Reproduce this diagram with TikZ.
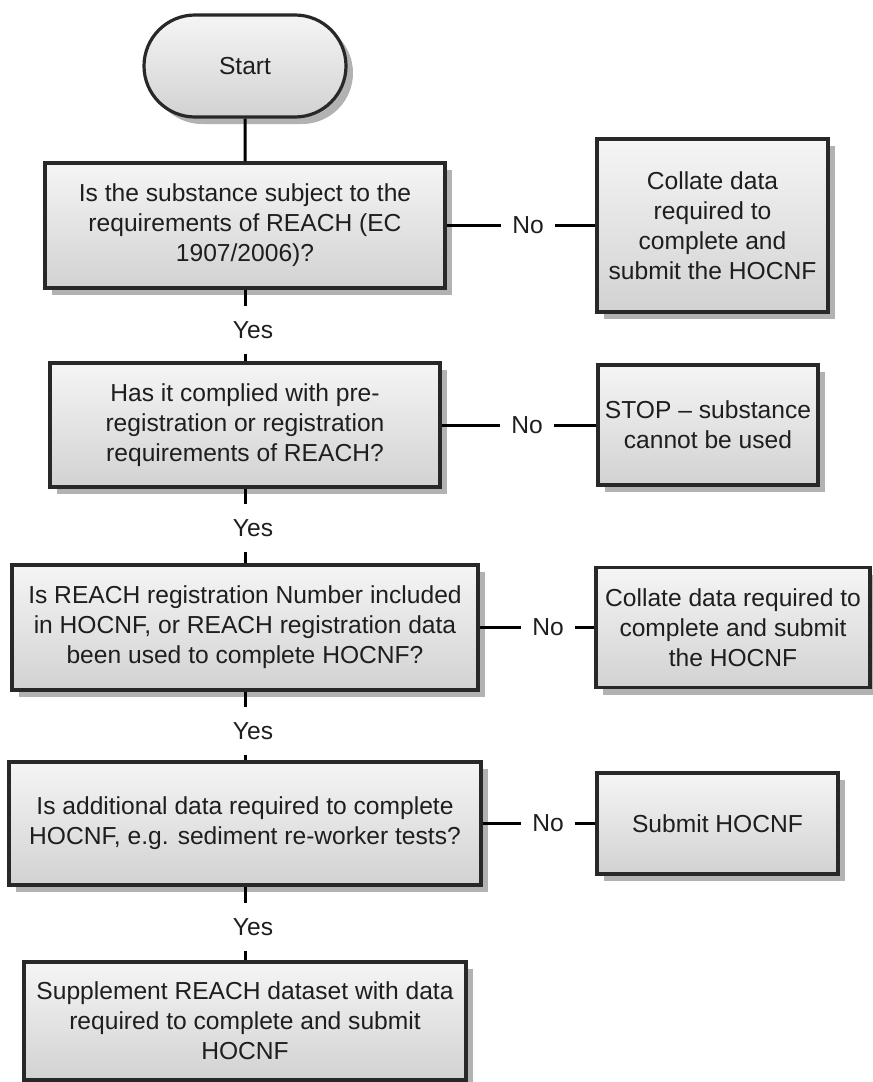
\documentclass[tikz,border=0pt]{standalone}
\usepackage{fontspec}
\setmainfont{Liberation Sans}
\usetikzlibrary{shapes.misc,shadows}
\definecolor{boxtop}{RGB}{245,245,245}
\definecolor{boxbottom}{RGB}{210,210,210}
\definecolor{boxedge}{RGB}{40,40,40}
\definecolor{boxshadow}{RGB}{178,178,178}
\definecolor{textgray}{RGB}{30,30,30}
\begin{document}
\begin{tikzpicture}[x=1pt,y=-1pt,
	procbox/.style={rectangle,draw=boxedge,line width=3.2pt,top color=boxtop,bottom color=boxbottom,
		drop shadow={shadow xshift=7pt,shadow yshift=-7pt,fill=boxshadow,opacity=1},
		align=center,text=textgray,font=\fontsize{24.6}{30}\selectfont,inner sep=0pt},
	termbox/.style={procbox,rounded rectangle},
	answer/.style={text=textgray,font=\fontsize{24.6}{30}\selectfont,inner xsep=11pt,inner ysep=15pt},
	link/.style={line width=3pt,black}]
	   \useasboundingbox (0,0) rectangle (873,1082);
	   % main column
	   \node [termbox,minimum width=202pt,minimum height=102pt] (start) at (245,66) {Start};
	   \node [procbox,minimum width=400pt,minimum height=125pt] (q1) at (245,225.5) {Is the substance subject to the\\requirements of REACH (EC\\1907/2006)?};
	   \node [procbox,minimum width=390pt,minimum height=124pt] (q2) at (245,425) {Has it complied with pre-\\registration or registration\\requirements of REACH?};
	   \node [procbox,minimum width=466pt,minimum height=125pt] (q3) at (245,627.5) {Is REACH registration Number included\\in HOCNF, or REACH registration data\\been used to complete HOCNF?};
	   \node [procbox,minimum width=472pt,minimum height=123pt] (q4) at (245,823.5) {Is additional data required to complete\\HOCNF, e.g. sediment re-worker tests?};
	   \node [procbox,minimum width=442pt,minimum height=118pt] (sup) at (245,1021) {Supplement REACH dataset with data\\required to complete and submit\\HOCNF};
	   % right column
	   \node [procbox,minimum width=231pt,minimum height=173pt] (r1) at (712.5,225.5) {Collate data\\required to\\complete and\\submit the HOCNF};
	   \node [procbox,minimum width=220pt,minimum height=120pt] (r2) at (708,425) {STOP – substance\\cannot be used};
	   \node [procbox,minimum width=274pt,minimum height=120pt] (r3) at (733,627.5) {Collate data required to\\complete and submit\\the HOCNF};
	   \node [procbox,minimum width=241pt,minimum height=101pt] (r4) at (717.5,823.5) {Submit HOCNF};
	   % answers
	   \node [answer] (yes1) at (253,330) {Yes};
	   \node [answer] (yes2) at (253,528) {Yes};
	   \node [answer] (yes3) at (253,731) {Yes};
	   \node [answer] (yes4) at (253,927) {Yes};
	   \node [answer] (no1) at (528,225.5) {No};
	   \node [answer] (no2) at (527,425) {No};
	   \node [answer] (no3) at (548,627.5) {No};
	   \node [answer] (no4) at (548,823.5) {No};
	   % connectors
	   \draw[link] (start) -- (q1);
	   \draw[link] (q1.south) -- (q1.south |- yes1.north);
	   \draw[link] (q1.south |- yes1.south) -- (q2.north);
	   \draw[link] (q2.south) -- (q2.south |- yes2.north);
	   \draw[link] (q2.south |- yes2.south) -- (q3.north);
	   \draw[link] (q3.south) -- (q3.south |- yes3.north);
	   \draw[link] (q3.south |- yes3.south) -- (q4.north);
	   \draw[link] (q4.south) -- (q4.south |- yes4.north);
	   \draw[link] (q4.south |- yes4.south) -- (sup.north);
	   \draw[link] (q1) -- (no1) -- (r1);
	   \draw[link] (q2) -- (no2) -- (r2);
	   \draw[link] (q3) -- (no3) -- (r3);
	   \draw[link] (q4) -- (no4) -- (r4);
	\end{tikzpicture}
\end{document}
